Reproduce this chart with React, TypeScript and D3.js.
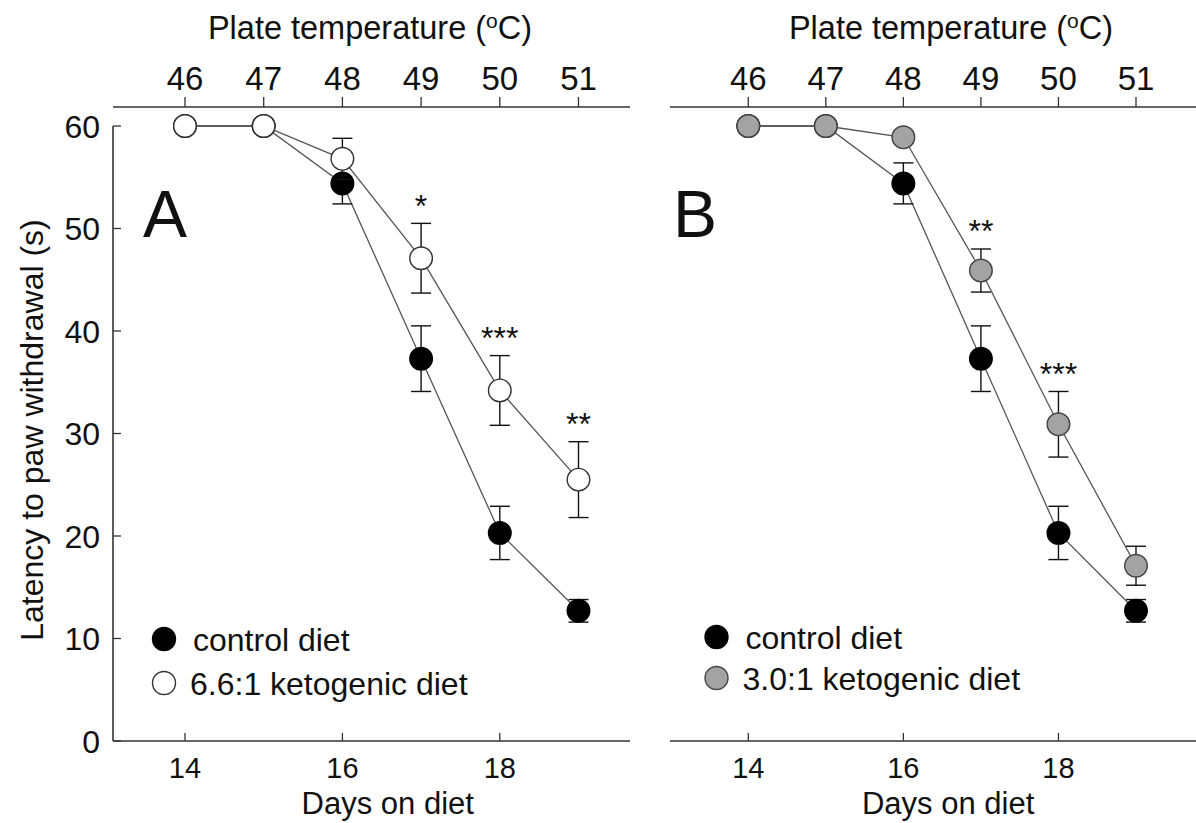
import React from 'react';
import * as d3 from 'd3';

// ---------- data ----------
const days = [14, 15, 16, 17, 18, 19];
const plateTemps = [46, 47, 48, 49, 50, 51];
const dayTicks = [14, 16, 18];
const yTicks = [0, 10, 20, 30, 40, 50, 60];

const controlMean = [60, 60, 54.4, 37.3, 20.3, 12.7];
const controlErr = [0, 0, 2.0, 3.2, 2.6, 1.1];

const keto66Mean = [60, 60, 56.8, 47.1, 34.2, 25.5];
const keto66Err = [0, 0, 2.0, 3.4, 3.4, 3.7];
const keto66Stars = ['', '', '', '*', '***', '**'];

const keto30Mean = [60, 60, 58.9, 45.9, 30.9, 17.1];
const keto30Err = [0, 0, 0.6, 2.1, 3.2, 1.9];
const keto30Stars = ['', '', '', '**', '***', ''];

const FONT = "'Liberation Sans', Arial, sans-serif";

type Series = { mean: number[]; err: number[]; fill: string; stroke: string };

const W = 1196;
const H = 823;
const yTop = 126;
const yBottom = 741;
const topAxisY = 107;

const y = d3.scaleLinear().domain([0, 60]).range([yBottom, yTop]);

type PanelProps = {
  axisLeft: number; axisRight: number; xRange: [number, number];
  letter: string; letterX: number; titleX: number; legX: number; legY: [number, number];
  legendLabel: string; keto: Series; stars: string[]; showYAxis: boolean;
};

function Panel(p: PanelProps) {
  const x = d3.scaleLinear().domain([14, 19]).range(p.xRange);
  const control: Series = { mean: controlMean, err: controlErr, fill: '#000', stroke: '#000' };
  const line = d3.line<number>().x((_, i) => x(days[i])).y((v) => y(v));
  const cap = 10;
  const r = 11.3;

  const drawSeries = (s: Series, key: string) => (
    <g key={key}>
      <path d={line(s.mean) || ''} fill="none" stroke="#555" strokeWidth={1.3} />
      {s.mean.map((m, i) =>
        s.err[i] > 0 ? (
          <g key={'e' + i} stroke="#111" strokeWidth={1.4}>
            <line x1={x(days[i])} x2={x(days[i])} y1={y(m + s.err[i])} y2={y(m - s.err[i])} />
            <line x1={x(days[i]) - cap} x2={x(days[i]) + cap} y1={y(m + s.err[i])} y2={y(m + s.err[i])} />
            <line x1={x(days[i]) - cap} x2={x(days[i]) + cap} y1={y(m - s.err[i])} y2={y(m - s.err[i])} />
          </g>
        ) : null
      )}
      {s.mean.map((m, i) => (
        <circle key={'c' + i} cx={x(days[i])} cy={y(m)} r={r} fill={s.fill} stroke={s.stroke} strokeWidth={1.4} />
      ))}
    </g>
  );

  return (
    <g fontFamily={FONT} fill="#111">
      {/* top axis */}
      <line x1={p.axisLeft} x2={p.axisRight} y1={topAxisY} y2={topAxisY} stroke="#333" strokeWidth={1.6} />
      {plateTemps.map((t, i) => (
        <g key={'tt' + t}>
          <line x1={x(days[i])} x2={x(days[i])} y1={topAxisY} y2={topAxisY - 10} stroke="#333" strokeWidth={1.3} />
          <text x={x(days[i])} y={90} textAnchor="middle" fontSize={33}>{t}</text>
        </g>
      ))}
      <text x={p.titleX} y={39} textAnchor="middle" fontSize={32.5}>
        Plate temperature (<tspan fontSize={21} dy={-11}>o</tspan><tspan dy={11}>C)</tspan>
      </text>

      {/* bottom axis */}
      <line x1={p.axisLeft} x2={p.axisRight} y1={yBottom} y2={yBottom} stroke="#333" strokeWidth={1.6} />
      {dayTicks.map((d) => (
        <g key={'bt' + d}>
          <line x1={x(d)} x2={x(d)} y1={yBottom} y2={yBottom - 8} stroke="#333" strokeWidth={1.3} />
          <text x={x(d)} y={778} textAnchor="middle" fontSize={29}>{d}</text>
        </g>
      ))}
      <text x={(x(14) + x(19)) / 2 + 6} y={814} textAnchor="middle" fontSize={31}>Days on diet</text>

      {/* y axis */}
      {p.showYAxis && (
        <g>
          <line x1={p.axisLeft} x2={p.axisLeft} y1={yTop} y2={yBottom} stroke="#333" strokeWidth={1.6} />
          {yTicks.map((t) => (
            <g key={'yt' + t}>
              <line x1={p.axisLeft} x2={p.axisLeft + 8} y1={y(t)} y2={y(t)} stroke="#333" strokeWidth={1.3} />
              <text x={p.axisLeft - 13} y={y(t)} dy="0.36em" textAnchor="end" fontSize={32}>{t}</text>
            </g>
          ))}
          <text transform={`translate(43, 430) rotate(-90)`} textAnchor="middle" fontSize={32}>
            Latency to paw withdrawal (s)
          </text>
        </g>
      )}

      {/* panel letter */}
      <text x={p.letterX} y={237} fontSize={66}>{p.letter}</text>

      {/* series */}
      {drawSeries(control, 'ctrl')}
      {drawSeries(p.keto, 'keto')}

      {/* significance */}
      {p.stars.map((s, i) =>
        s ? (
          <text key={'s' + i} x={x(days[i])} y={y(p.keto.mean[i] + p.keto.err[i]) - 25} dy="0.57em" textAnchor="middle" fontSize={32}>
            {s}
          </text>
        ) : null
      )}

      {/* legend */}
      <circle cx={p.legX} cy={p.legY[0]} r={11.5} fill="#000" stroke="#000" strokeWidth={1.4} />
      <text x={p.legX + 29} y={p.legY[0]} dy="0.36em" fontSize={32}>control diet</text>
      <circle cx={p.legX} cy={p.legY[1]} r={11.5} fill={p.keto.fill} stroke={p.keto.stroke} strokeWidth={1.4} />
      <text x={p.legX + 26} y={p.legY[1]} dy="0.36em" fontSize={32}>{p.legendLabel}</text>
    </g>
  );
}

export default function App() {
  return (
    <svg width={W} height={H} style={{ position: 'absolute', left: 0, top: 0, background: '#fff' }}>
      <rect width={W} height={H} fill="#fff" />
      <Panel
        axisLeft={113}
        axisRight={630}
        xRange={[185, 578.5]}
        letter="A"
        letterX={143}
        titleX={370}
        legX={164}
        legY={[639, 683]}
        legendLabel="6.6:1 ketogenic diet"
        keto={{ mean: keto66Mean, err: keto66Err, fill: '#fff', stroke: '#333' }}
        stars={keto66Stars}
        showYAxis={true}
      />
      <Panel
        axisLeft={670}
        axisRight={1196}
        xRange={[748.3, 1136]}
        letter="B"
        letterX={673}
        titleX={951}
        legX={716.5}
        legY={[637, 678]}
        legendLabel="3.0:1 ketogenic diet"
        keto={{ mean: keto30Mean, err: keto30Err, fill: '#a3a3a3', stroke: '#444' }}
        stars={keto30Stars}
        showYAxis={false}
      />
    </svg>
  );
}
